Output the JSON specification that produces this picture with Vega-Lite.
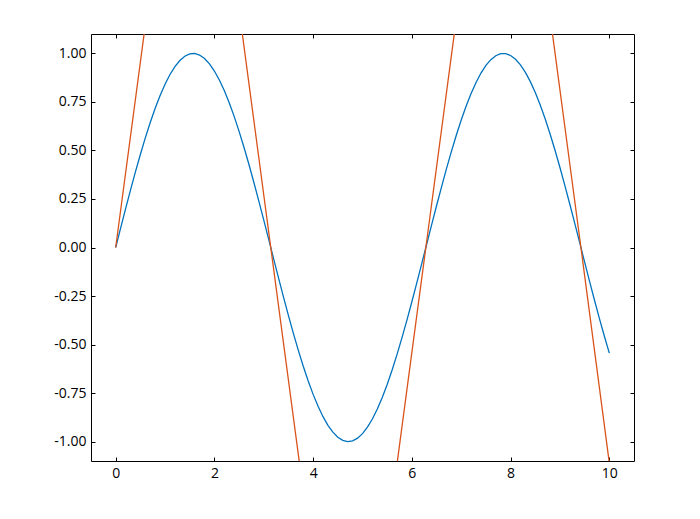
{
  "$schema": "https://vega.github.io/schema/vega-lite/v6.json",
  "width": 543,
  "height": 427,
  "autosize": {"type": "none"},
  "padding": {"left": 91, "top": 34, "right": 66, "bottom": 58},
  "background": "white",
  "config": {
    "view": {"stroke": null},
    "axis": {
      "grid": false,
      "domainColor": "black",
      "domainWidth": 1,
      "tickColor": "black",
      "tickSize": -4,
      "tickWidth": 1,
      "labelFont": "Open Sans",
      "labelFontSize": 14,
      "labelColor": "black",
      "title": null
    }
  },
  "datasets": {
    "sine": [
      {"x":0.0,"y":0.0},{"x":0.1,"y":0.0998},{"x":0.2,"y":0.1987},{"x":0.3,"y":0.2955},{"x":0.4,"y":0.3894},{"x":0.5,"y":0.4794},{"x":0.6,"y":0.5646},{"x":0.7,"y":0.6442},{"x":0.8,"y":0.7174},{"x":0.9,"y":0.7833},
      {"x":1.0,"y":0.8415},{"x":1.1,"y":0.8912},{"x":1.2,"y":0.932},{"x":1.3,"y":0.9636},{"x":1.4,"y":0.9854},{"x":1.5,"y":0.9975},{"x":1.6,"y":0.9996},{"x":1.7,"y":0.9917},{"x":1.8,"y":0.9738},{"x":1.9,"y":0.9463},
      {"x":2.0,"y":0.9093},{"x":2.1,"y":0.8632},{"x":2.2,"y":0.8085},{"x":2.3,"y":0.7457},{"x":2.4,"y":0.6755},{"x":2.5,"y":0.5985},{"x":2.6,"y":0.5155},{"x":2.7,"y":0.4274},{"x":2.8,"y":0.335},{"x":2.9,"y":0.2392},
      {"x":3.0,"y":0.1411},{"x":3.1,"y":0.0416},{"x":3.2,"y":-0.0584},{"x":3.3,"y":-0.1577},{"x":3.4,"y":-0.2555},{"x":3.5,"y":-0.3508},{"x":3.6,"y":-0.4425},{"x":3.7,"y":-0.5298},{"x":3.8,"y":-0.6119},{"x":3.9,"y":-0.6878},
      {"x":4.0,"y":-0.7568},{"x":4.1,"y":-0.8183},{"x":4.2,"y":-0.8716},{"x":4.3,"y":-0.9162},{"x":4.4,"y":-0.9516},{"x":4.5,"y":-0.9775},{"x":4.6,"y":-0.9937},{"x":4.7,"y":-0.9999},{"x":4.8,"y":-0.9962},{"x":4.9,"y":-0.9825},
      {"x":5.0,"y":-0.9589},{"x":5.1,"y":-0.9258},{"x":5.2,"y":-0.8835},{"x":5.3,"y":-0.8323},{"x":5.4,"y":-0.7728},{"x":5.5,"y":-0.7055},{"x":5.6,"y":-0.6313},{"x":5.7,"y":-0.5507},{"x":5.8,"y":-0.4646},{"x":5.9,"y":-0.3739},
      {"x":6.0,"y":-0.2794},{"x":6.1,"y":-0.1822},{"x":6.2,"y":-0.0831},{"x":6.3,"y":0.0168},{"x":6.4,"y":0.1165},{"x":6.5,"y":0.2151},{"x":6.6,"y":0.3115},{"x":6.7,"y":0.4048},{"x":6.8,"y":0.4941},{"x":6.9,"y":0.5784},
      {"x":7.0,"y":0.657},{"x":7.1,"y":0.729},{"x":7.2,"y":0.7937},{"x":7.3,"y":0.8504},{"x":7.4,"y":0.8987},{"x":7.5,"y":0.938},{"x":7.6,"y":0.9679},{"x":7.7,"y":0.9882},{"x":7.8,"y":0.9985},{"x":7.9,"y":0.9989},
      {"x":8.0,"y":0.9894},{"x":8.1,"y":0.9699},{"x":8.2,"y":0.9407},{"x":8.3,"y":0.9022},{"x":8.4,"y":0.8546},{"x":8.5,"y":0.7985},{"x":8.6,"y":0.7344},{"x":8.7,"y":0.663},{"x":8.8,"y":0.5849},{"x":8.9,"y":0.501},
      {"x":9.0,"y":0.4121},{"x":9.1,"y":0.3191},{"x":9.2,"y":0.2229},{"x":9.3,"y":0.1245},{"x":9.4,"y":0.0248},{"x":9.5,"y":-0.0752},{"x":9.6,"y":-0.1743},{"x":9.7,"y":-0.2718},{"x":9.8,"y":-0.3665},{"x":9.9,"y":-0.4575},
      {"x":10.0,"y":-0.544}
    ],
    "zigzag": [
      {"x":0.0,"y":0.0},{"x":1.5708,"y":3.0},{"x":3.1416,"y":0.0},{"x":4.7124,"y":-3.0},{"x":6.2832,"y":0.0},{"x":7.854,"y":3.0},{"x":9.4248,"y":0.0},{"x":10.0,"y":-1.11}
    ]
  },
  "layer": [
    {
      "data": {"name": "sine"},
      "mark": {"type": "line", "color": "#0072BD", "strokeWidth": 1.3, "clip": true},
      "encoding": {
        "x": {"field": "x", "type": "quantitative", "scale": {"domain": [-0.5, 10.5], "nice": false, "zero": false},
              "axis": {"orient": "bottom", "values": [0, 2, 4, 6, 8, 10], "format": "d", "labelPadding": 9}},
        "y": {"field": "y", "type": "quantitative", "scale": {"domain": [-1.1, 1.1], "nice": false, "zero": false},
              "axis": {"orient": "left", "values": [-1, -0.75, -0.5, -0.25, 0, 0.25, 0.5, 0.75, 1], "format": ".2f", "labelExpr": "replace(datum.label, '\u2212', '-')", "labelPadding": 9}}
      }
    },
    {
      "data": {"name": "zigzag"},
      "mark": {"type": "line", "color": "#D95319", "strokeWidth": 1.3, "clip": true},
      "encoding": {
        "x": {"field": "x", "type": "quantitative", "scale": {"domain": [-0.5, 10.5], "nice": false, "zero": false},
              "axis": {"orient": "top", "values": [0, 2, 4, 6, 8, 10], "labels": false}},
        "y": {"field": "y", "type": "quantitative", "scale": {"domain": [-1.1, 1.1], "nice": false, "zero": false},
              "axis": {"orient": "right", "values": [-1, -0.75, -0.5, -0.25, 0, 0.25, 0.5, 0.75, 1], "labels": false}}
      }
    }
  ],
  "resolve": {"axis": {"x": "independent", "y": "independent"}}
}
